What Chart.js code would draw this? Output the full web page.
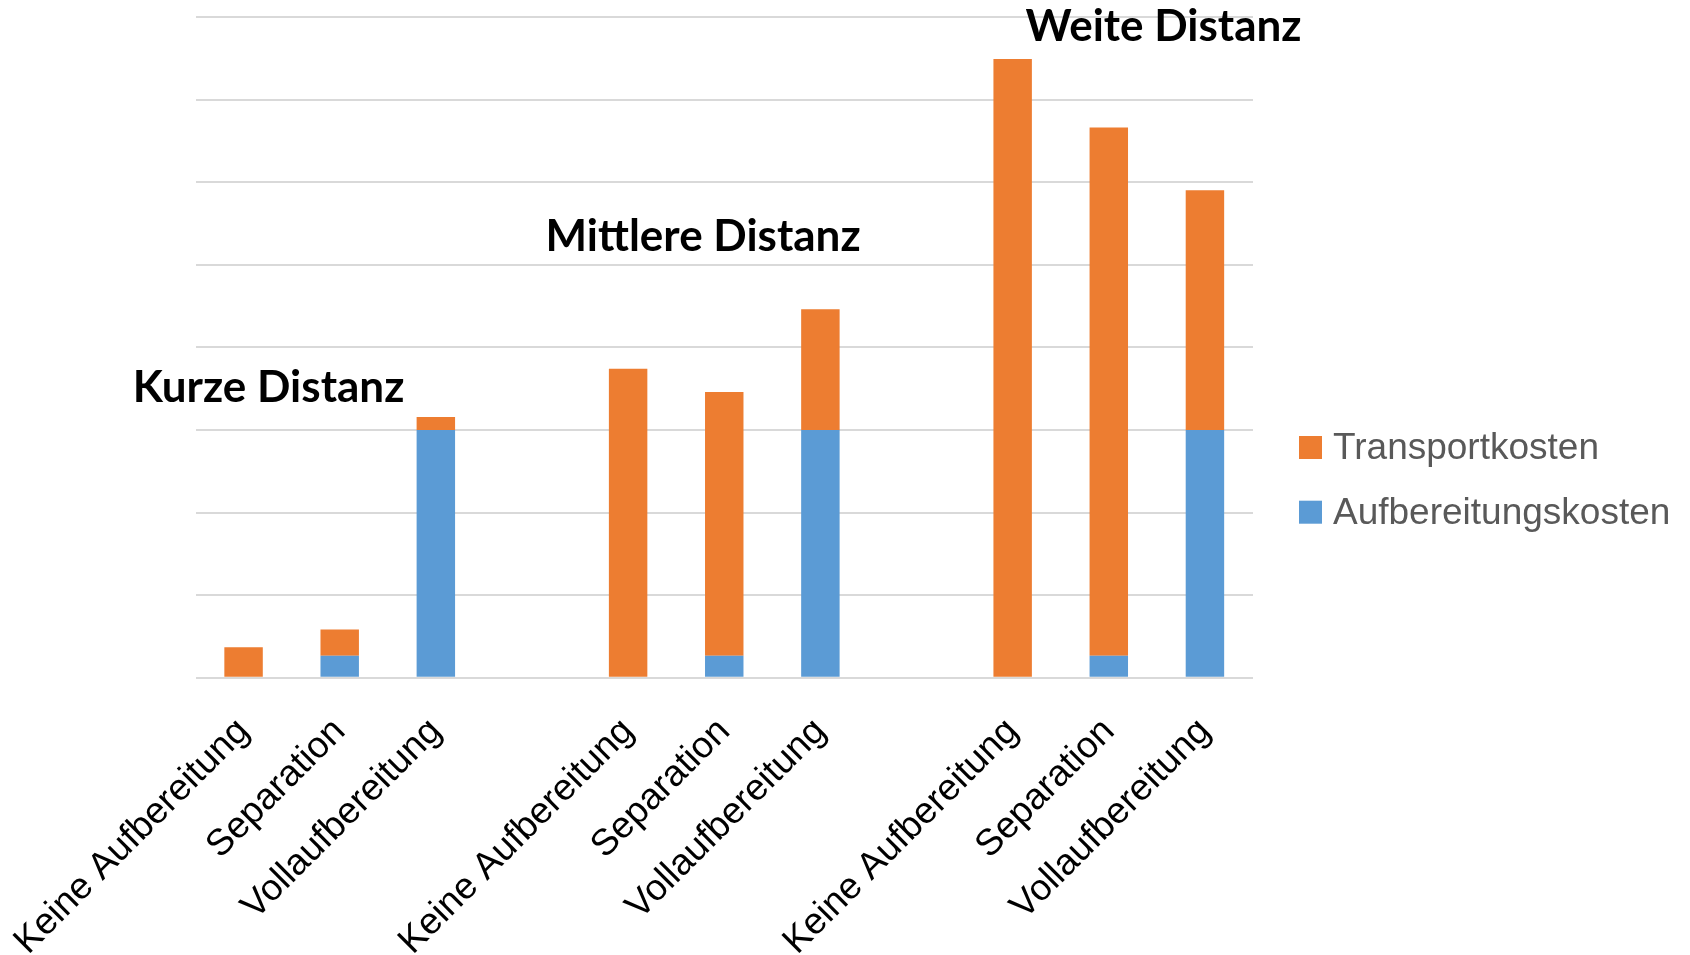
<!DOCTYPE html>
<html>
<head>
<meta charset="utf-8">
<title>Kosten nach Distanz</title>
<script src="https://cdn.jsdelivr.net/npm/chart.js@4.4.1/dist/chart.umd.min.js"></script>
<style>
  html, body { margin: 0; padding: 0; background: #ffffff; }
  #wrap { width: 1690px; height: 955px; }
</style>
</head>
<body>
<div id="wrap"><canvas id="chart" width="1690" height="955"></canvas></div>
<script>
// Categories: three processing variants per distance, empty slots separate the groups
const categories = [
  'Keine Aufbereitung', 'Separation', 'Vollaufbereitung', '',
  'Keine Aufbereitung', 'Separation', 'Vollaufbereitung', '',
  'Keine Aufbereitung', 'Separation', 'Vollaufbereitung'
];

// Stacked series (blue at the bottom, orange on top)
const aufbereitungskosten = [0, 2.65, 30, null, 0, 2.65, 30, null, 0, 2.65, 30];
const transportkosten     = [3.7, 3.2, 1.55, null, 37.4, 31.95, 14.6, null, 74.9, 63.95, 29.0];

const seriesNames  = ['Aufbereitungskosten', 'Transportkosten'];
const seriesColors = ['#5B9BD5', '#ED7D31'];

// Group headings
const groupTitles = ['Kurze Distanz', 'Mittlere Distanz', 'Weite Distanz'];

// Value axis range (no tick labels are shown)
const yMax = 80;
const yStep = 10;

// Draws the group headings and the legend on top of the chart
const overlayPlugin = {
  id: 'overlay',
  afterDraw(chart, args, opts) {
    const { ctx, scales: { x, y } } = chart;
    ctx.save();

    // headings, centred on a (fractional) category position, baseline at a value level
    ctx.font = 'bold 44px Lato';
    ctx.fillStyle = '#000000';
    ctx.textAlign = 'center';
    ctx.textBaseline = 'alphabetic';
    opts.titles.forEach((t, i) => {
      ctx.fillText(groupTitles[i], x.getPixelForValue(t.at), y.getPixelForValue(t.level));
    });

    // legend, listed top-down in reverse stacking order
    const lg = opts.legend;
    ctx.font = '37px "Liberation Sans", Arial, sans-serif';
    ctx.textAlign = 'left';
    ctx.textBaseline = 'alphabetic';
    const items = chart.data.datasets.slice().reverse();
    items.forEach((ds, i) => {
      const top = lg.top + i * lg.rowGap;
      ctx.fillStyle = ds.backgroundColor;
      ctx.fillRect(chart.chartArea.right + lg.offset, top, lg.box, lg.box);
      ctx.fillStyle = '#595959';
      ctx.fillText(ds.label, chart.chartArea.right + lg.offset + lg.box + lg.textGap, top + lg.box);
    });

    ctx.restore();
  }
};

new Chart(document.getElementById('chart'), {
  type: 'bar',
  data: {
    labels: categories,
    datasets: [
      { label: seriesNames[0], data: aufbereitungskosten, backgroundColor: seriesColors[0] },
      { label: seriesNames[1], data: transportkosten,     backgroundColor: seriesColors[1] }
    ]
  },
  options: {
    responsive: false,
    animation: false,
    devicePixelRatio: 1,
    layout: { padding: { left: 195.5, right: 437, top: 16.9, bottom: 0 } },
    datasets: { bar: { categoryPercentage: 1.0, barPercentage: 0.4 } },
    plugins: {
      legend: { display: false },
      tooltip: { enabled: false },
      overlay: {
        titles: [
          { at: 0.26, level: 33.4 },
          { at: 4.78, level: 51.6 },
          { at: 9.57, level: 77.06 }
        ],
        legend: { offset: 46, top: 436, rowGap: 64.7, box: 23, textGap: 11 }
      }
    },
    scales: {
      x: {
        stacked: true,
        grid: { display: false },
        border: { display: false },
        ticks: {
          autoSkip: false,
          maxRotation: 45,
          minRotation: 45,
          padding: 24,
          color: '#000000',
          font: { family: '"Liberation Sans", Arial, sans-serif', size: 37 }
        },
        afterFit(scale) {
          scale.height = 277.3;
          scale.paddingLeft = 0;
          scale.paddingRight = 0;
        }
      },
      y: {
        stacked: true,
        min: 0,
        max: yMax,
        ticks: { display: false, stepSize: yStep },
        grid: { color: '#D9D9D9', lineWidth: 2, drawTicks: false },
        border: { display: false },
        afterFit(scale) { scale.width = 0; }
      }
    }
  },
  plugins: [overlayPlugin]
});
</script>
</body>
</html>
